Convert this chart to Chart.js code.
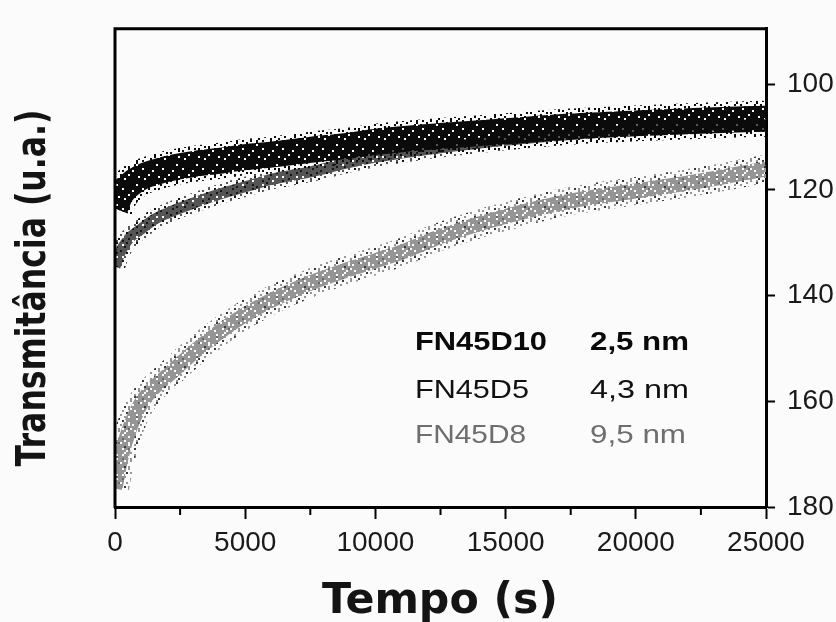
<!DOCTYPE html>
<html>
<head>
<meta charset="utf-8">
<script src="https://cdn.jsdelivr.net/npm/chart.js@4.4.0/dist/chart.umd.min.js"></script>
<style>
    html, body { margin: 0; padding: 0; background: #fbfbfb; }
</style>
</head>
<body>
<canvas id="chart" width="836" height="622"></canvas>
<script>
// Sampling times (s)
const tempo = [0, 200, 500, 1000, 1500, 2000, 3000, 4000, 5000, 6000, 7500, 9000, 10000, 11000, 12500, 15000, 17500, 20000, 22500, 25000];

// Transmitância (u.a.) for each sample
const fn45d10 = [123.5, 121.0, 119.3, 117.6, 116.7, 116.0, 115.1, 114.5, 113.8, 113.3, 112.4, 111.6, 110.9, 110.4, 109.8, 108.9, 108.0, 107.4, 106.9, 106.5];
const fn45d5  = [134.5, 131.8, 129.4, 127.4, 125.6, 124.4, 122.5, 120.8, 119.4, 118.0, 116.6, 114.8, 113.8, 113.0, 112.0, 110.6, 109.5, 108.6, 108.0, 107.6];
const fn45d8  = [176.5, 171.3, 166.0, 160.4, 157.4, 155.2, 150.8, 146.9, 143.6, 140.9, 137.6, 135.0, 133.4, 131.8, 128.8, 125.0, 122.1, 120.2, 118.3, 116.0];

// Inset legend text
const sampleNames = ['FN45D10', 'FN45D5', 'FN45D8'];
const sampleSizes = ['2,5 nm', '4,3 nm', '9,5 nm'];

// Axes
const xTicks = [0, 5000, 10000, 15000, 20000, 25000];
const xMinorTicks = [2500, 7500, 12500, 17500, 22500];
const yTicks = [100, 120, 140, 160, 180];
const xTitle = 'Tempo (s)';
const yTitle = 'Transmitância (u.a.)';

/**
 * Speckled fill so the bands look like dense scatter
 */
function speckle(colors, rows) {
    const cell = 2;
    const c = document.createElement('canvas');
    c.width = rows[0].length * cell;
    c.height = rows.length * cell;
    const g = c.getContext('2d');
    rows.forEach((r, y) => {
        [...r].forEach((ch, x) => {
            if (!colors[ch]) return;
            g.fillStyle = colors[ch];
            g.fillRect(x * cell, y * cell, cell, cell);
        });
    });
    return g.createPattern(c, 'repeat');
}

const sparse = [
    '.k...#..#.',
    '...#....k.',
    '#......#..',
    '..k.#.....',
    '....#..k.#',
    '.#.......#',
    '...k.#....',
    '#......#..',
    '..#....k..',
    '.....#...k'
];

const blackCore = speckle({ '#': '#0b0b0b' }, [
    '##########',
    '###.######',
    '########.#',
    '##########',
    '#.########',
    '######.###',
    '##########',
    '####.#####',
    '#########.',
    '##.#######'
]);
const blackHalo = speckle({ '#': '#0b0b0b', 'k': '#0b0b0b' }, sparse);
const darkCore = speckle({ '#': '#555555', 'k': '#151515' }, [
    '#k####.###',
    '###k######',
    '#.####k###',
    '##k#####k#',
    '####.#k###',
    'k#########',
    '###k#.##k#',
    '#####k####',
    '#.######.#',
    '####k#####'
]);
const darkHalo = speckle({ '#': '#555555', 'k': '#151515' }, sparse);
const lightCore = speckle({ '#': '#959595', 'k': '#6a6a6a' }, [
    '##.#####.#',
    '.###.####k',
    '####.#.###',
    '##.#######',
    '#.##k.####',
    '###.###.##',
    '##.##.####',
    '#.######.#',
    '####.###k#',
    '#k######.#'
]);
const lightHalo = speckle({ '#': '#959595', 'k': '#3a3a3a' }, sparse);

function points(values) {
    return tempo.map((t, i) => ({ x: t, y: values[i] }));
}

// Draw text squeezed/stretched to a given width
function fitText(ctx, text, x, y, width, align) {
    const w = ctx.measureText(text).width;
    ctx.save();
    ctx.translate(x, y);
    ctx.scale(width / w, 1);
    ctx.textAlign = align || 'left';
    ctx.fillText(text, 0, 0);
    ctx.restore();
}

const framePlugin = {
    id: 'frame',
    beforeDraw(chart) {
        const ctx = chart.ctx;
        ctx.save();
        ctx.fillStyle = '#fbfbfb';
        ctx.fillRect(0, 0, chart.width, chart.height);
        ctx.restore();
    },
    afterDraw(chart) {
        const { ctx, chartArea: a, scales } = chart;
        ctx.save();

        // top and left border of the plot box
        ctx.strokeStyle = '#000';
        ctx.lineWidth = 3;
        ctx.beginPath();
        ctx.moveTo(a.left, a.bottom + 1);
        ctx.lineTo(a.left, a.top);
        ctx.lineTo(a.right + 1, a.top);
        ctx.stroke();

        // minor ticks on the time axis
        ctx.lineWidth = 2;
        ctx.beginPath();
        xMinorTicks.forEach(v => {
            const px = scales.x.getPixelForValue(v);
            ctx.moveTo(px, a.bottom);
            ctx.lineTo(px, a.bottom + 8);
        });
        ctx.stroke();

        // inset legend
        const rows = [
            { y: 350, color: '#0a0a0a', weight: 'bold', wName: 132, wSize: 99 },
            { y: 398, color: '#111111', weight: 'normal', wName: 114, wSize: 99 },
            { y: 443, color: '#6e6e6e', weight: 'normal', wName: 111, wSize: 96 }
        ];
        ctx.textBaseline = 'alphabetic';
        rows.forEach((r, i) => {
            ctx.fillStyle = r.color;
            ctx.font = r.weight + ' 25px "Liberation Sans", Arial, sans-serif';
            fitText(ctx, sampleNames[i], 415, r.y, r.wName);
            fitText(ctx, sampleSizes[i], 590, r.y, r.wSize);
        });

        // axis titles
        ctx.fillStyle = '#141414';
        ctx.font = 'bold 42px "DejaVu Sans", sans-serif';
        fitText(ctx, xTitle, 440, 613, 236, 'center');

        ctx.save();
        ctx.translate(45, 288);
        ctx.rotate(-Math.PI / 2);
        ctx.font = 'bold 41px "DejaVu Sans", sans-serif';
        fitText(ctx, yTitle, 0, 0, 357, 'center');
        ctx.restore();

        ctx.restore();
    }
};

const tickFont = { family: '"Liberation Sans", Arial, sans-serif', size: 28 };

function band(label, values, fill, width, order) {
    return { label: label, data: points(values), borderColor: fill, borderWidth: width, order: order };
}

new Chart(document.getElementById('chart'), {
    type: 'line',
    data: {
        datasets: [
            band(sampleNames[0], fn45d10, blackHalo, 36, 2),
            band(sampleNames[0], fn45d10, blackCore, 26, 1),
            band(sampleNames[1], fn45d5, darkHalo, 20, 4),
            band(sampleNames[1], fn45d5, darkCore, 11, 3),
            band(sampleNames[2], fn45d8, lightHalo, 28, 6),
            band(sampleNames[2], fn45d8, lightCore, 15, 5)
        ]
    },
    options: {
        responsive: false,
        animation: false,
        devicePixelRatio: 1,
        layout: { padding: { left: 115, top: 16, right: 0, bottom: 0 } },
        elements: {
            point: { radius: 0 },
            line: { cubicInterpolationMode: 'monotone', borderCapStyle: 'butt', borderJoinStyle: 'round' }
        },
        plugins: {
            legend: { display: false },
            tooltip: { enabled: false }
        },
        scales: {
            x: {
                type: 'linear',
                position: 'bottom',
                min: 0,
                max: 25000,
                afterBuildTicks: scale => { scale.ticks = xTicks.map(v => ({ value: v })); },
                afterFit: scale => { scale.height = 115; },
                grid: { drawOnChartArea: false, tickLength: 12, tickWidth: 2, color: '#000' },
                border: { color: '#000', width: 3 },
                ticks: { font: tickFont, color: '#1a1a1a', padding: 7, maxRotation: 0, callback: v => String(v) }
            },
            y: {
                type: 'linear',
                position: 'right',
                reverse: true,
                min: 89.5,
                max: 180,
                afterBuildTicks: scale => { scale.ticks = yTicks.map(v => ({ value: v })); },
                afterFit: scale => { scale.width = 70; },
                grid: { drawOnChartArea: false, tickLength: 9, tickWidth: 2, color: '#000' },
                border: { color: '#000', width: 3 },
                ticks: { font: tickFont, color: '#1a1a1a', padding: 12, callback: v => String(v) }
            }
        }
    },
    plugins: [framePlugin]
});
</script>
</body>
</html>
